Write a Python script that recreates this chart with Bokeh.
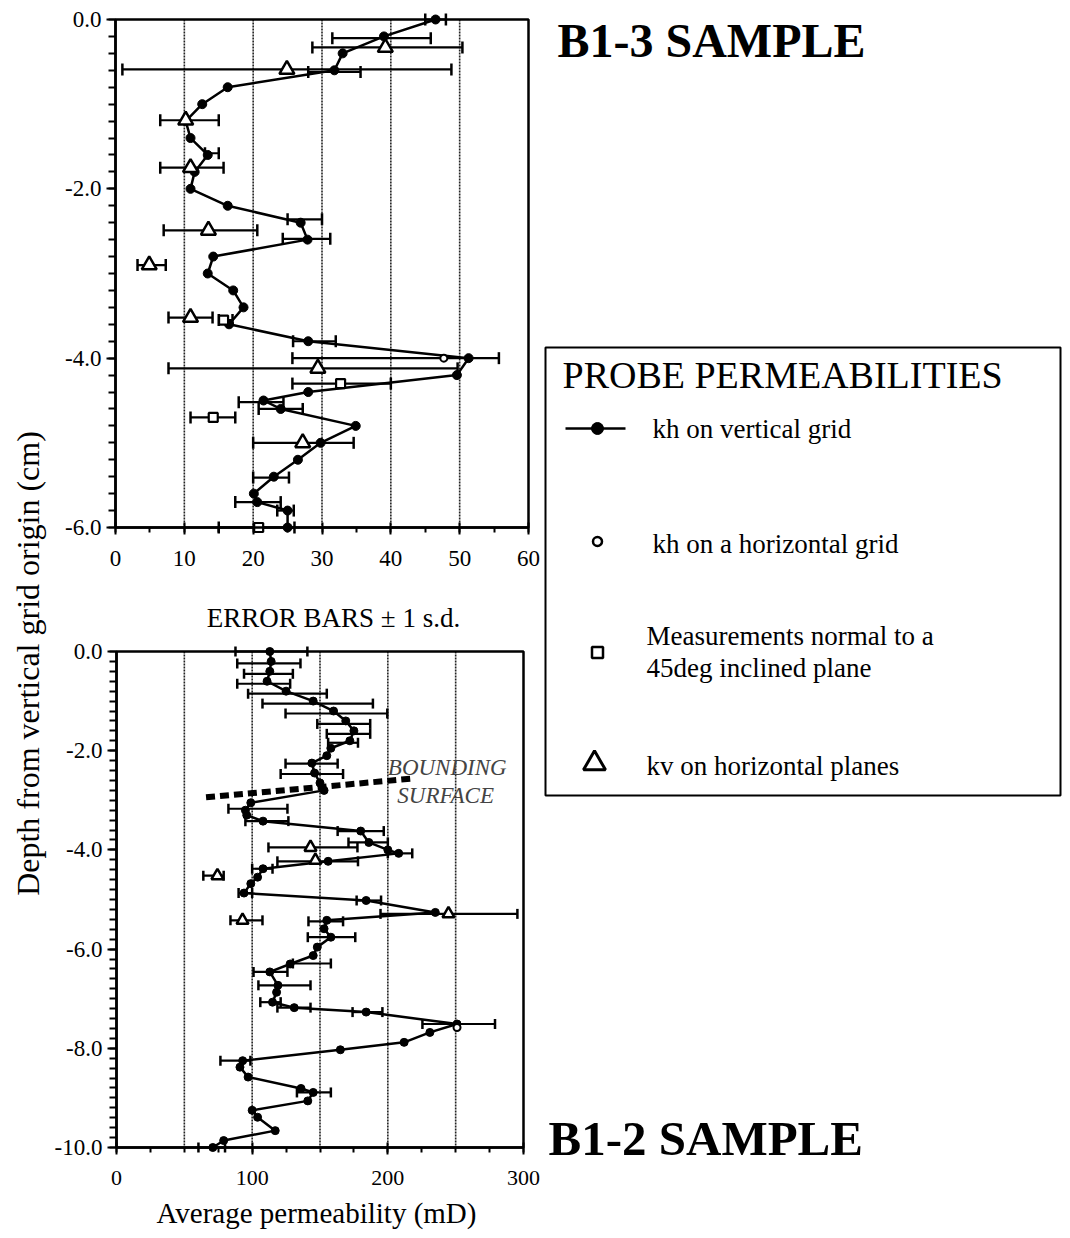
import numpy as np
from bokeh.plotting import figure
from bokeh.models import (Range1d, LinearAxis, FixedTicker, PrintfTickFormatter, Label)
from bokeh.embed import file_html
from bokeh.resources import INLINE

FONT = "Liberation Serif"

# ---------------- DATA: B1-3 SAMPLE (top panel) ----------------
top_depth = [0.0, -0.2, -0.4, -0.6, -0.8, -1.0, -1.2, -1.4, -1.6, -1.8, -2.0, -2.2, -2.4,
             -2.6, -2.8, -3.0, -3.2, -3.4, -3.6, -3.8, -4.0, -4.2, -4.4, -4.5, -4.6, -4.8,
             -5.0, -5.2, -5.4, -5.6, -5.7, -5.8, -6.0]
top_kh = [46.5, 39.0, 33.0, 31.8, 16.3, 12.6, 10.2, 10.9, 13.4, 11.5, 10.9, 16.3, 26.9,
          27.9, 14.2, 13.4, 17.1, 18.6, 16.5, 28.0, 51.3, 49.6, 28.0, 21.5, 24.0, 34.9,
          29.8, 26.5, 23.0, 20.1, 20.6, 25.0, 25.0]
top_err_depth = [0.0, -0.22, -0.33, -0.59, -0.62, -1.19, -1.58, -1.75, -2.36, -2.49, -2.59,
                 -2.90, -3.52, -3.55, -3.80, -4.00, -4.12, -4.30, -4.52, -4.60, -4.70,
                 -5.00, -5.41, -5.70, -5.80, -6.00]
top_err_lo = [45.0, 31.5, 28.6, 1.0, 28.0, 6.5, 13.0, 6.5, 25.0, 7.0, 24.3, 3.2, 7.7, 15.0,
              25.8, 25.7, 7.7, 25.7, 17.9, 20.8, 10.9, 20.0, 20.0, 17.4, 23.5, 15.0]
top_err_hi = [48.0, 45.8, 50.4, 48.8, 35.6, 15.0, 15.0, 15.7, 30.0, 20.6, 31.2, 7.3, 14.1,
              17.0, 32.0, 55.7, 49.7, 40.0, 24.4, 27.2, 17.4, 34.6, 25.2, 24.0, 25.9, 26.0]
top_kv_depth = [-0.33, -0.59, -1.19, -1.75, -2.49, -2.90, -3.52, -4.12, -5.00]
top_kv = [39.2, 24.9, 10.2, 10.9, 13.5, 4.9, 10.9, 29.4, 27.2]
top_khh_depth = [-4.0]
top_khh = [47.7]
top_k45_depth = [-3.55, -4.30, -4.70, -6.0]
top_k45 = [15.7, 32.7, 14.2, 20.8]
top_xticks = [0, 10, 20, 30, 40, 50, 60]
top_yticks = [0.0, -2.0, -4.0, -6.0]

# ---------------- DATA: B1-2 SAMPLE (bottom panel) ----------------
bot_depth = [0.0, -0.2, -0.4, -0.6, -0.8, -1.0, -1.2, -1.4, -1.6, -1.8, -1.95, -2.1, -2.25,
             -2.45, -2.65, -2.8, -3.05, -3.2, -3.3, -3.42, -3.62, -3.85, -4.0, -4.07, -4.23,
             -4.38, -4.55, -4.68, -4.87, -5.02, -5.26, -5.42, -5.59, -5.76, -5.96, -6.13,
             -6.3, -6.46, -6.73, -6.87, -7.07, -7.18, -7.27, -7.51, -7.68, -7.88, -8.03,
             -8.25, -8.38, -8.58, -8.81, -8.89, -9.06, -9.25, -9.39, -9.66, -9.86, -10.0]
bot_kh = [113, 114, 113, 111, 125, 145, 160, 169, 175, 172, 158, 155, 144,
          146, 150, 153, 99, 95, 96, 108, 180, 186, 200, 208, 156,
          108, 104, 99, 94, 184, 235, 155, 153, 158, 148, 145,
          128, 113, 119, 118, 115, 131, 184, 251, 231, 212, 165,
          93, 91, 97, 136, 145, 141, 100, 104, 117, 79, 71]
bot_err_depth = [0.0, -0.24, -0.45, -0.65, -0.85, -1.05, -1.25, -1.46, -1.66, -1.84, -2.26,
                 -2.47, -3.17, -3.42, -3.62, -3.85, -3.95, -4.07, -4.23, -4.38, -4.52, -4.87,
                 -5.02, -5.29, -5.42, -5.44, -5.76, -6.29, -6.46, -6.73, -7.07, -7.18, -7.27,
                 -7.51, -8.25, -8.89, -10.0]
bot_err_lo = [87.7, 89, 94, 89, 97, 107.6, 124.6, 148, 155, 156, 124.6, 121, 82.5, 95, 163,
              171, 112, 200, 118.6, 100, 64, 90, 177, 194.6, 84, 141.5, 141, 130, 101,
              104.6, 106, 118.6, 174, 225.5, 76.6, 133, 60.4]
bot_err_hi = [140.7, 135.6, 130, 128, 155, 189, 199.6, 187, 187, 178, 163, 167, 126, 126.7,
              197, 200, 177.6, 218, 178, 115, 79, 100, 195, 295.5, 107.6, 167, 176, 158, 126,
              143, 121, 143, 196, 279, 98.7, 158, 80]
bot_kv_depth = [-3.95, -4.21, -4.52, -5.29, -5.42]
bot_kv = [143, 146.6, 74.4, 244.7, 92.9]
bot_khh_depth = [-7.58]
bot_khh = [251]
bound_x = [66, 219]
bound_y = [-2.94, -2.56]
bot_xticks = [0, 100, 200, 300]
bot_gridx = [50, 100, 150, 200, 250]
top_gridx = [10, 20, 30, 40, 50]
bot_yticks = [0.0, -2.0, -4.0, -6.0, -8.0, -10.0]

# ---------------- LAYOUT (picture pixels) ----------------
W, H = 1062, 1230
LEFT, TOP = 0, 0
RIGHT, BOTTOM = LEFT + W, TOP + H


def xrange_for(d0, p0, d1, p1):
    k = (p1 - p0) / (d1 - d0)
    return Range1d(d0 + (LEFT - p0) / k, d0 + (RIGHT - p0) / k)


def yrange_for(d0, p0, d1, p1):
    k = (p1 - p0) / (d1 - d0)
    return Range1d(d0 + (BOTTOM - p0) / k, d0 + (TOP - p0) / k)


p = figure(width=W, height=H, x_range=Range1d(LEFT, RIGHT), y_range=Range1d(BOTTOM, TOP),
           x_axis_type=None, y_axis_type=None, toolbar_location=None,
           output_backend="svg", min_border=0, outline_line_color=None)
p.min_border_left = p.min_border_right = p.min_border_top = p.min_border_bottom = 0
p.background_fill_color = "white"
p.border_fill_color = "white"

p.extra_x_ranges = {"tx": xrange_for(0, 115, 60, 528), "bx": xrange_for(0, 116, 300, 523)}
p.extra_y_ranges = {"ty": yrange_for(0, 19, -6, 527), "by": yrange_for(0, 651, -10, 1147)}


def style_axis(ax, vertical):
    ax.axis_line_width = 2.5
    ax.axis_line_color = "black"
    ax.major_tick_line_width = 2
    ax.minor_tick_line_width = 2
    ax.major_label_text_font = FONT
    ax.major_label_text_color = "black"
    if vertical:
        ax.major_tick_out = 9
        ax.major_tick_in = 0
        ax.minor_tick_out = 7
        ax.minor_tick_in = 0
        ax.major_label_standoff = 5
        ax.major_label_text_font_size = "23px"
    else:
        ax.major_tick_out = 7
        ax.major_tick_in = 5
        ax.minor_tick_out = 5
        ax.minor_tick_in = 0
        ax.major_label_standoff = 16
        ax.major_label_text_font_size = "23px"


# --- axes of the top panel
ay_t = LinearAxis(x_range_name="tx", y_range_name="ty", fixed_location=0, bounds=(-6, 0),
                  ticker=FixedTicker(ticks=top_yticks, minor_ticks=list(np.round(np.arange(-6, 0.01, 0.2), 2))),
                  formatter=PrintfTickFormatter(format="%.1f"))
style_axis(ay_t, True)
p.add_layout(ay_t, "left")
ax_t = LinearAxis(x_range_name="tx", y_range_name="ty", fixed_location=-6, bounds=(0, 60),
                  ticker=FixedTicker(ticks=top_xticks, minor_ticks=list(range(0, 61, 5))),
                  formatter=PrintfTickFormatter(format="%d"))
style_axis(ax_t, False)
p.add_layout(ax_t, "below")

# --- axes of the bottom panel
ay_b = LinearAxis(x_range_name="bx", y_range_name="by", fixed_location=0, bounds=(-10, 0),
                  ticker=FixedTicker(ticks=bot_yticks, minor_ticks=list(np.round(np.arange(-10, 0.01, 0.2), 2))),
                  formatter=PrintfTickFormatter(format="%.1f"))
style_axis(ay_b, True)
p.add_layout(ay_b, "left")
ax_b = LinearAxis(x_range_name="bx", y_range_name="by", fixed_location=-10, bounds=(0, 300),
                  ticker=FixedTicker(ticks=bot_xticks, minor_ticks=list(range(0, 301, 25))),
                  formatter=PrintfTickFormatter(format="%d"))
style_axis(ax_b, False)
ax_b.major_label_text_font_size = "22px"
p.add_layout(ax_b, "below")


def panel(xr, yr, gridx, xmax, ymin, depth, kh, ed, elo, ehi, kvd, kv, khd, khv,
          msize, tsize, capsize):
    # dotted grid lines
    p.segment(x0=gridx, x1=gridx, y0=[0] * len(gridx), y1=[ymin] * len(gridx),
              x_range_name=xr, y_range_name=yr, line_color="#222222", line_width=1.6,
              line_dash="2 1")
    # frame box
    p.quad(left=[0], right=[xmax], top=[0], bottom=[ymin], x_range_name=xr, y_range_name=yr,
           fill_color=None, line_color="black", line_width=2.5)
    # error bars
    p.segment(x0=elo, x1=ehi, y0=ed, y1=ed, x_range_name=xr, y_range_name=yr,
              line_color="black", line_width=2.2)
    p.scatter(x=elo + ehi, y=ed + ed, marker="dash", angle=np.pi / 2, size=capsize,
              x_range_name=xr, y_range_name=yr, line_color="black", line_width=2.5)
    # main series
    p.line(x=kh, y=depth, x_range_name=xr, y_range_name=yr, line_color="black", line_width=2.5)
    p.scatter(x=kh, y=depth, marker="circle", size=msize, x_range_name=xr, y_range_name=yr,
              fill_color="black", line_color="black")
    # kv triangles
    p.scatter(x=kv, y=kvd, marker="triangle", size=tsize, x_range_name=xr, y_range_name=yr,
              fill_color="white", line_color="black", line_width=2.5)
    # kh horizontal grid (open circles)
    p.scatter(x=khv, y=khd, marker="circle", size=7, x_range_name=xr, y_range_name=yr,
              fill_color="white", line_color="black", line_width=2)


panel("tx", "ty", top_gridx, 60, -6, top_depth, top_kh, top_err_depth, top_err_lo, top_err_hi,
      top_kv_depth, top_kv, top_khh_depth, top_khh, 9, 15, 12)
p.scatter(x=top_k45, y=top_k45_depth, marker="square", size=9, x_range_name="tx",
          y_range_name="ty", fill_color="white", line_color="black", line_width=2.2)

panel("bx", "by", bot_gridx, 300, -10, bot_depth, bot_kh, bot_err_depth, bot_err_lo, bot_err_hi,
      bot_kv_depth, bot_kv, bot_khh_depth, bot_khh, 8, 12, 10)

# bounding surface
p.line(x=bound_x, y=bound_y, x_range_name="bx", y_range_name="by", line_color="black",
       line_width=6, line_dash="9 5")
p.add_layout(Label(x=200, y=-2.34, x_range_name="bx", y_range_name="by", text="BOUNDING",
                   text_font=FONT, text_font_style="italic", text_font_size="23px",
                   text_baseline="middle", text_align="left"))
p.add_layout(Label(x=207, y=-2.90, x_range_name="bx", y_range_name="by", text="SURFACE",
                   text_font=FONT, text_font_style="italic", text_font_size="23px",
                   text_baseline="middle", text_align="left"))


def label(x, y, text, size, style="normal", align="left", angle=0.0):
    p.add_layout(Label(x=x, y=y, text=text, text_font=FONT, text_font_size=size,
                       text_font_style=style, text_align=align, text_baseline="middle",
                       angle=angle, text_color="black"))


# titles and axis labels (picture pixel positions)
label(557, 40, "B1-3 SAMPLE", "48px", "bold")
label(548, 1138, "B1-2 SAMPLE", "49px", "bold")
label(333, 617, "ERROR BARS \u00b1 1 s.d.", "27px", align="center")
label(316, 1212, "Average permeability (mD)", "29px", align="center")
label(27, 663, "Depth from vertical grid origin (cm)", "32px", align="center", angle=np.pi / 2)

# legend box
p.quad(left=[545], right=[1060], top=[347], bottom=[795], fill_color=None,
       line_color="black", line_width=2)
label(562, 374, "PROBE PERMEABILITIES", "38px")
p.line(x=[565, 625], y=[428, 428], line_color="black", line_width=2.5)
p.scatter(x=[597], y=[428], marker="circle", size=12, fill_color="black", line_color="black")
label(652, 428, "kh on vertical grid", "27px")
p.scatter(x=[597], y=[541], marker="circle", size=9, fill_color="white", line_color="black",
          line_width=2.5)
label(652, 543, "kh on a horizontal grid", "27px")
p.scatter(x=[597], y=[652], marker="square", size=11, fill_color="white", line_color="black",
          line_width=2.5)
label(646, 635, "Measurements normal to a", "27px")
label(646, 667, "45deg inclined plane", "27px")
p.scatter(x=[594], y=[763], marker="triangle", size=22, fill_color="white", line_color="black",
          line_width=3)
label(646, 765, "kv on horizontal planes", "27px")

open("out.html", "w").write(file_html(p, INLINE))
